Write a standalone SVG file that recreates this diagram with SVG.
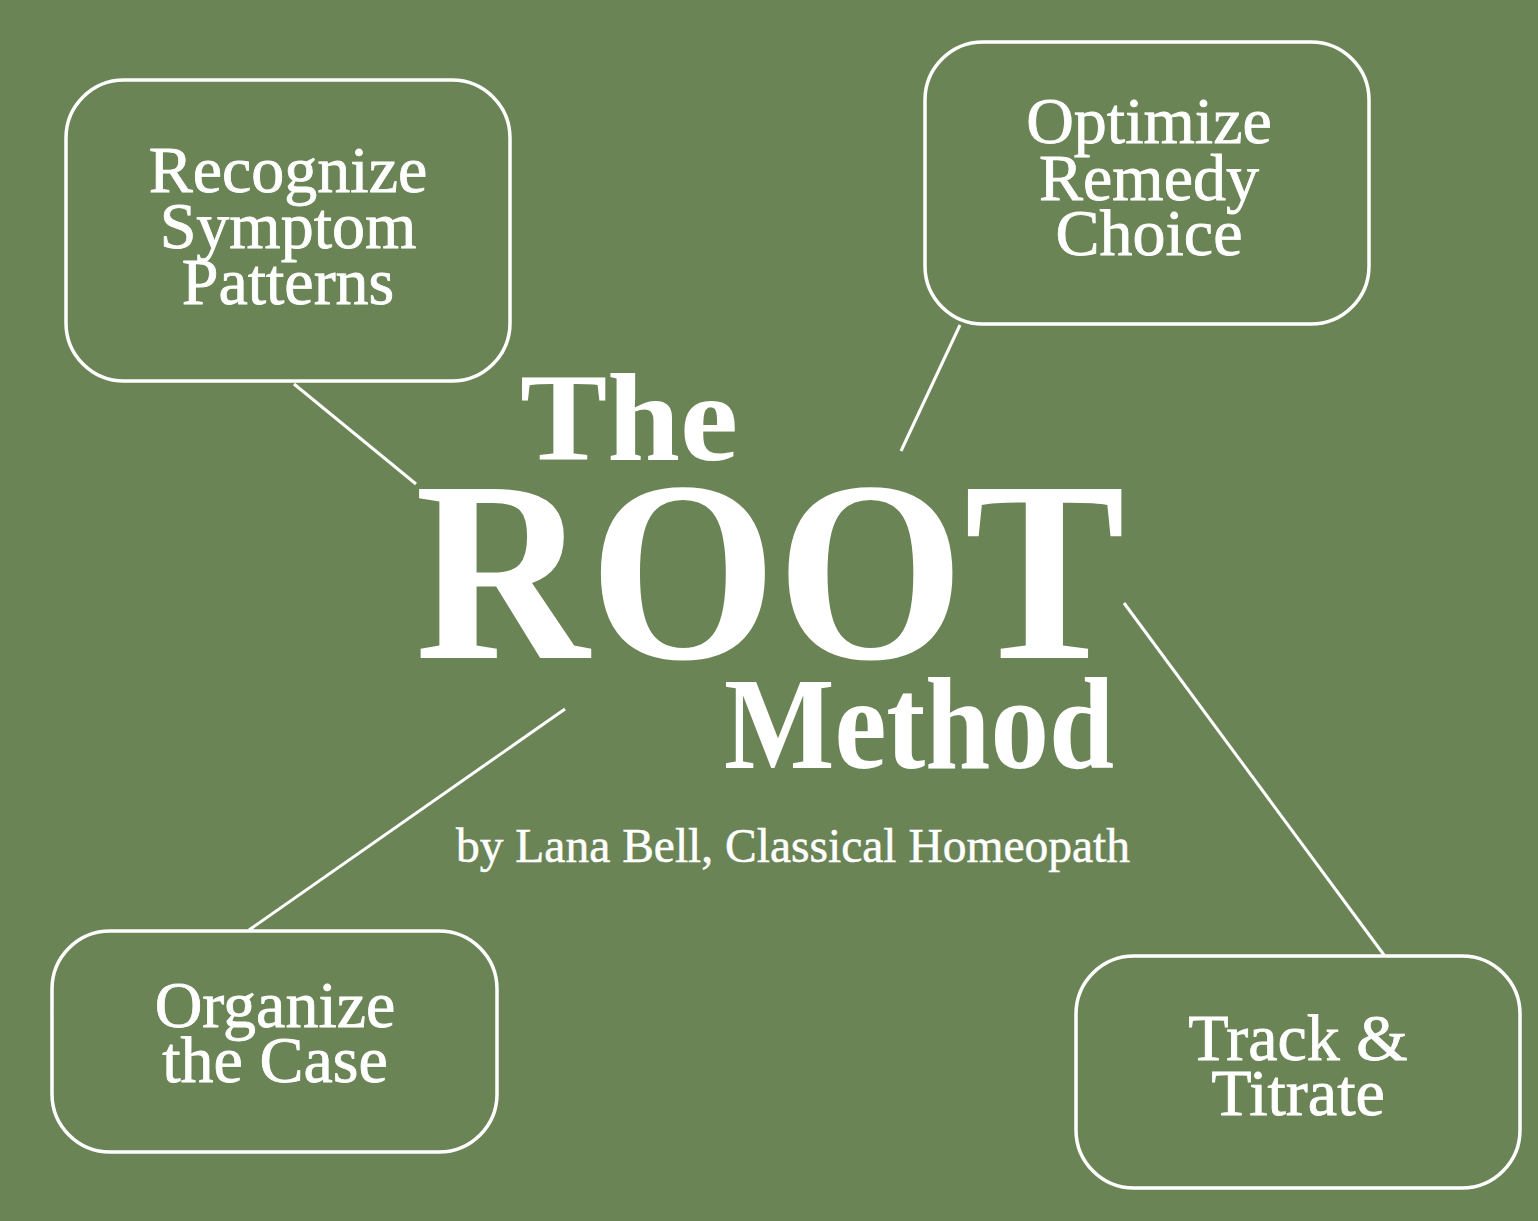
<svg xmlns="http://www.w3.org/2000/svg" width="1538" height="1221" viewBox="0 0 1538 1221">
<style>
.bg{fill:#6b8456}
.box{fill:none;stroke:#ffffff;stroke-width:3.5}
.lbl{font-family:"Liberation Serif","DejaVu Serif",serif;font-size:66px;fill:#ffffff;stroke:#ffffff;stroke-width:0.8;text-anchor:middle}
.conn line{stroke:#ffffff;stroke-width:3}
.title{font-family:"Liberation Serif","DejaVu Serif",serif;font-weight:bold;fill:#ffffff;text-anchor:middle}
.sub{font-family:"Liberation Serif","DejaVu Serif",serif;font-size:47.5px;fill:#ffffff;stroke:#ffffff;stroke-width:0.5;text-anchor:middle}
</style>
<rect class="bg" x="0" y="0" width="1538" height="1221"/>
<g id="connectors" class="conn">
<line x1="294" y1="384" x2="416" y2="484"/>
<line x1="960" y1="325" x2="901" y2="451"/>
<line x1="565" y1="709" x2="249" y2="930"/>
<line x1="1124" y1="603" x2="1384" y2="955"/>
</g>
<g id="node-recognize">
<rect class="box" x="66" y="80" width="444" height="301" rx="58"/>
<text class="lbl" x="288" y="192">Recognize</text>
<text class="lbl" x="288" y="248">Symptom</text>
<text class="lbl" x="288" y="304">Patterns</text>
</g>
<g id="node-optimize">
<rect class="box" x="925" y="42" width="444" height="282" rx="58"/>
<text class="lbl" x="1149" y="143">Optimize</text>
<text class="lbl" x="1149" y="200">Remedy</text>
<text class="lbl" x="1149" y="255">Choice</text>
</g>
<g id="node-organize">
<rect class="box" x="52" y="931" width="445" height="221" rx="58"/>
<text class="lbl" x="275" y="1027">Organize</text>
<text class="lbl" x="275" y="1082">the Case</text>
</g>
<g id="node-track">
<rect class="box" x="1076" y="956" width="444" height="232" rx="58"/>
<text class="lbl" x="1298" y="1060">Track &amp;</text>
<text class="lbl" x="1298" y="1115">Titrate</text>
</g>
<g id="title">
<text class="title" x="629" y="460" font-size="124" textLength="218" lengthAdjust="spacingAndGlyphs">The</text>
<text class="title" x="770" y="658" font-size="258" textLength="710" lengthAdjust="spacingAndGlyphs">ROOT</text>
<text class="title" x="919" y="768" font-size="132" textLength="390" lengthAdjust="spacingAndGlyphs">Method</text>
<text class="sub" x="793" y="862">by Lana Bell, Classical Homeopath</text>
</g>
</svg>
